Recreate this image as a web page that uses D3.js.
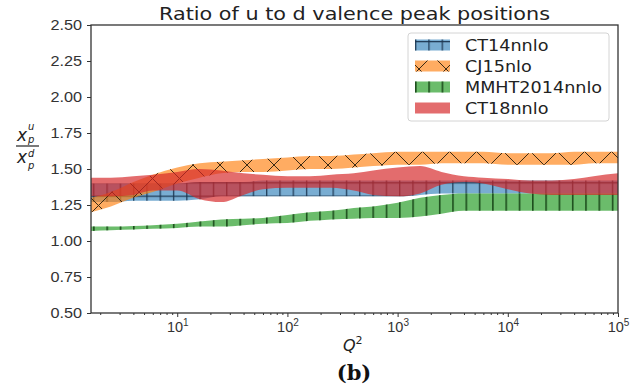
<!DOCTYPE html>
<meta charset="utf-8">
<style>
    body { margin: 0; background: #fff; }
    svg { font-family: "DejaVu Sans", sans-serif; }
    .axis path.domain { display: none; }
    .axis line { stroke: #333; }
    .axis text { fill: #333; }
</style>
<body>
<script src="https://cdn.jsdelivr.net/npm/d3@7"></script>
<script>
    // Q^2 sample points (log spaced)
    const q2 = [1.65, 2.5, 4, 6, 10, 16, 25, 40, 60, 100, 160, 250, 400, 600,
        1000, 1600, 2500, 4000, 6000, 10000, 16000, 25000, 40000, 60000, 100000];

    // band edges for each PDF set
    const ct14Lo = [1.27, 1.27, 1.28, 1.28, 1.28, 1.29, 1.31, 1.31, 1.31, 1.31, 1.31, 1.31, 1.31,
        1.31, 1.31, 1.32, 1.33, 1.33, 1.33, 1.33, 1.33, 1.33, 1.33, 1.33, 1.33];
    const ct14Hi = [1.40, 1.40, 1.40, 1.40, 1.40, 1.41, 1.41, 1.41, 1.42, 1.42, 1.42, 1.42, 1.42,
        1.42, 1.42, 1.42, 1.42, 1.42, 1.42, 1.42, 1.42, 1.42, 1.42, 1.42, 1.42];

    const cj15Lo = [1.20, 1.24, 1.30, 1.34, 1.40, 1.44, 1.47, 1.48, 1.48, 1.49, 1.50, 1.50, 1.51,
        1.52, 1.53, 1.53, 1.54, 1.54, 1.54, 1.53, 1.53, 1.53, 1.53, 1.54, 1.54];
    const cj15Hi = [1.30, 1.34, 1.41, 1.46, 1.51, 1.54, 1.55, 1.56, 1.57, 1.58, 1.59, 1.59, 1.60,
        1.61, 1.62, 1.62, 1.62, 1.62, 1.62, 1.61, 1.61, 1.61, 1.62, 1.62, 1.62];

    const mmhtLo = [1.07, 1.075, 1.08, 1.085, 1.09, 1.10, 1.10, 1.11, 1.12, 1.125, 1.14, 1.15, 1.155,
        1.16, 1.16, 1.17, 1.19, 1.21, 1.21, 1.21, 1.21, 1.21, 1.21, 1.21, 1.21];
    const mmhtHi = [1.10, 1.10, 1.105, 1.11, 1.12, 1.135, 1.15, 1.155, 1.16, 1.18, 1.20, 1.21, 1.23,
        1.24, 1.265, 1.30, 1.32, 1.33, 1.33, 1.33, 1.33, 1.33, 1.33, 1.33, 1.33];

    const ct18Lo = [1.31, 1.31, 1.32, 1.35, 1.35, 1.29, 1.27, 1.32, 1.36, 1.37, 1.37, 1.37, 1.35,
        1.32, 1.31, 1.33, 1.39, 1.41, 1.40, 1.36, 1.33, 1.32, 1.32, 1.32, 1.32];
    const ct18Hi = [1.44, 1.44, 1.45, 1.46, 1.48, 1.50, 1.49, 1.47, 1.46, 1.45, 1.45, 1.46, 1.47,
        1.49, 1.51, 1.52, 1.48, 1.45, 1.44, 1.43, 1.42, 1.42, 1.43, 1.45, 1.47];

    const seriesNames = ["CT14nnlo", "CJ15nlo", "MMHT2014nnlo", "CT18nnlo"];
    const yTicks = [0.5, 0.75, 1.0, 1.25, 1.5, 1.75, 2.0, 2.25, 2.5];
    const xTicks = [10, 100, 1000, 10000, 100000];

    const width = 638, height = 388;
    const plot = {left: 91, right: 618, top: 25, bottom: 313};

    const svg = d3.select("body").append("svg")
        .attr("width", width)
        .attr("height", height);

    const x = d3.scaleLog().domain([1.65, 1e5]).range([plot.left, plot.right]);
    const y = d3.scaleLinear().domain([0.5, 2.5]).range([plot.bottom, plot.top]);

    // widen text a little, the picture is stretched sideways
    function stretch(sel, k) {
        sel.each(function () {
            const w = this.getComputedTextLength();
            d3.select(this).attr("textLength", w * k).attr("lengthAdjust", "spacingAndGlyphs");
        });
    }

    // hatch patterns
    const defs = svg.append("defs");
    const plus = defs.append("pattern").attr("id", "hatch-plus")
        .attr("patternUnits", "userSpaceOnUse").attr("width", 13.3).attr("height", 13.3)
        .attr("y", 9.4);
    plus.append("path").attr("d", "M0.7,0V13.3M0,0.7H13.3")
        .attr("stroke", "#1b3550").attr("stroke-width", 1.2);

    const vline = defs.append("pattern").attr("id", "hatch-v")
        .attr("patternUnits", "userSpaceOnUse").attr("width", 13.3).attr("height", 13.3);
    vline.append("path").attr("d", "M0.8,0V13.3")
        .attr("stroke", "#1d4d1d").attr("stroke-width", 1.6);

    const cross = defs.append("pattern").attr("id", "hatch-x")
        .attr("patternUnits", "userSpaceOnUse").attr("width", 27).attr("height", 27)
        .attr("x", 4).attr("y", 3);
    cross.append("path").attr("d", "M0,0L27,27M27,0L0,27M-2,25L2,29M25,-2L29,2M-2,2L2,-2M25,29L29,25")
        .attr("stroke", "#3b2a14").attr("stroke-width", 1);

    const bands = [
        {name: seriesNames[0], lo: ct14Lo, hi: ct14Hi, color: "#1f77b4", alpha: 0.6, hatch: "hatch-plus"},
        {name: seriesNames[1], lo: cj15Lo, hi: cj15Hi, color: "#ff7f0e", alpha: 0.65, hatch: "hatch-x"},
        {name: seriesNames[2], lo: mmhtLo, hi: mmhtHi, color: "#2ca02c", alpha: 0.7, hatch: "hatch-v"},
        {name: seriesNames[3], lo: ct18Lo, hi: ct18Hi, color: "#d62728", alpha: 0.68, hatch: null}
    ];

    const area = d3.area()
        .curve(d3.curveMonotoneX)
        .x(d => x(d.q))
        .y0(d => y(d.lo))
        .y1(d => y(d.hi));

    svg.append("clipPath").attr("id", "clip")
        .append("rect")
        .attr("x", plot.left).attr("y", plot.top)
        .attr("width", plot.right - plot.left).attr("height", plot.bottom - plot.top);

    const bandG = svg.append("g").attr("clip-path", "url(#clip)");

    bands.forEach(b => {
        const pts = q2.map((q, i) => ({q: q, lo: b.lo[i], hi: b.hi[i]}));
        bandG.append("path")
            .attr("d", area(pts))
            .attr("fill", b.color)
            .attr("fill-opacity", b.alpha);
        if (b.hatch) {
            bandG.append("path")
                .attr("d", area(pts))
                .attr("fill", "url(#" + b.hatch + ")");
        }
    });

    // y axis
    const yAxis = svg.append("g")
        .attr("class", "axis")
        .attr("transform", "translate(" + plot.left + ",0)")
        .call(d3.axisLeft(y).tickValues(yTicks).tickFormat(d3.format(".2f")).tickSize(4).tickPadding(5));
    yAxis.selectAll("text").style("font-size", "14.5px");
    stretch(yAxis.selectAll("text"), 1.12);

    // x axis, minor ticks first
    const minor = [];
    for (let e = 0; e < 5; e++) {
        for (let m = 2; m < 10; m++) {
            const v = m * Math.pow(10, e);
            if (v >= 1.65 && v <= 1e5) minor.push(v);
        }
    }
    svg.append("g")
        .attr("class", "axis")
        .attr("transform", "translate(0," + plot.bottom + ")")
        .call(d3.axisBottom(x).tickValues(minor).tickFormat("").tickSize(2));

    const xAxis = svg.append("g")
        .attr("class", "axis")
        .attr("transform", "translate(0," + plot.bottom + ")")
        .call(d3.axisBottom(x).tickValues(xTicks).tickSize(4));
    xAxis.selectAll(".tick text")
        .text(null)
        .attr("y", 19)
        .attr("dy", null)
        .style("font-size", "14.5px")
        .each(function (d) {
            const t = d3.select(this);
            t.append("tspan").text("10");
            t.append("tspan").attr("dy", "-6").style("font-size", "10px")
                .text(Math.round(Math.log10(d)));
        });

    // frame
    svg.append("rect")
        .attr("x", plot.left).attr("y", plot.top)
        .attr("width", plot.right - plot.left).attr("height", plot.bottom - plot.top)
        .attr("fill", "none")
        .attr("stroke", "#333")
        .attr("stroke-width", 1.3);

    // title
    const title = svg.append("text")
        .attr("x", (plot.left + plot.right) / 2)
        .attr("y", 20)
        .attr("text-anchor", "middle")
        .style("font-size", "17px")
        .style("fill", "#222")
        .text("Ratio of u to d valence peak positions");
    stretch(title, 1.22);

    // y label: x_p^u over x_p^d
    const ylab = svg.append("g").style("fill", "#222").style("font-style", "italic");
    function frac(xBase, supBase, subBase, sup) {
        ylab.append("text").attr("x", 17).attr("y", xBase).style("font-size", "17px").text("x");
        ylab.append("text").attr("x", 28).attr("y", supBase).style("font-size", "10px").text(sup);
        ylab.append("text").attr("x", 28).attr("y", subBase).style("font-size", "10px").text("p");
    }
    frac(141, 130, 143, "u");
    ylab.append("line").attr("x1", 16).attr("x2", 39).attr("y1", 146).attr("y2", 146)
        .attr("stroke", "#222").attr("stroke-width", 1.2);
    frac(163, 157, 169, "d");

    // x label
    const xlab = svg.append("text")
        .attr("x", 343).attr("y", 351)
        .style("fill", "#222");
    xlab.append("tspan").style("font-style", "italic").style("font-size", "16px").text("Q");
    xlab.append("tspan").attr("dy", -7).style("font-size", "11px").text("2");

    // panel tag
    svg.append("text")
        .attr("x", 354).attr("y", 380)
        .attr("text-anchor", "middle")
        .style("font-family", "'DejaVu Serif', serif")
        .style("font-weight", "bold")
        .style("font-size", "21px")
        .style("fill", "#111")
        .text("(b)");

    // legend
    const legend = svg.append("g").attr("class", "legend");
    legend.append("rect")
        .attr("x", 408).attr("y", 33)
        .attr("width", 201).attr("height", 88)
        .attr("rx", 3)
        .attr("fill", "#fff").attr("fill-opacity", 0.85)
        .attr("stroke", "#d4d4d4");

    const items = legend.selectAll(".item")
        .data(bands)
        .enter().append("g")
        .attr("class", "item")
        .attr("transform", (d, i) => "translate(415," + (45 + i * 21) + ")");

    items.append("rect")
        .attr("y", -5.5).attr("width", 35).attr("height", 11)
        .attr("fill", d => d.color)
        .attr("fill-opacity", d => d.alpha);
    items.filter(d => d.hatch).append("rect")
        .attr("y", -5.5).attr("width", 35).attr("height", 11)
        .attr("fill", d => "url(#" + d.hatch + ")");

    const labels = items.append("text")
        .attr("x", 50)
        .attr("dy", "0.36em")
        .style("font-size", "16px")
        .style("fill", "#222")
        .text(d => d.name);
    stretch(labels, 1.1);
</script>
</body>
</html>
